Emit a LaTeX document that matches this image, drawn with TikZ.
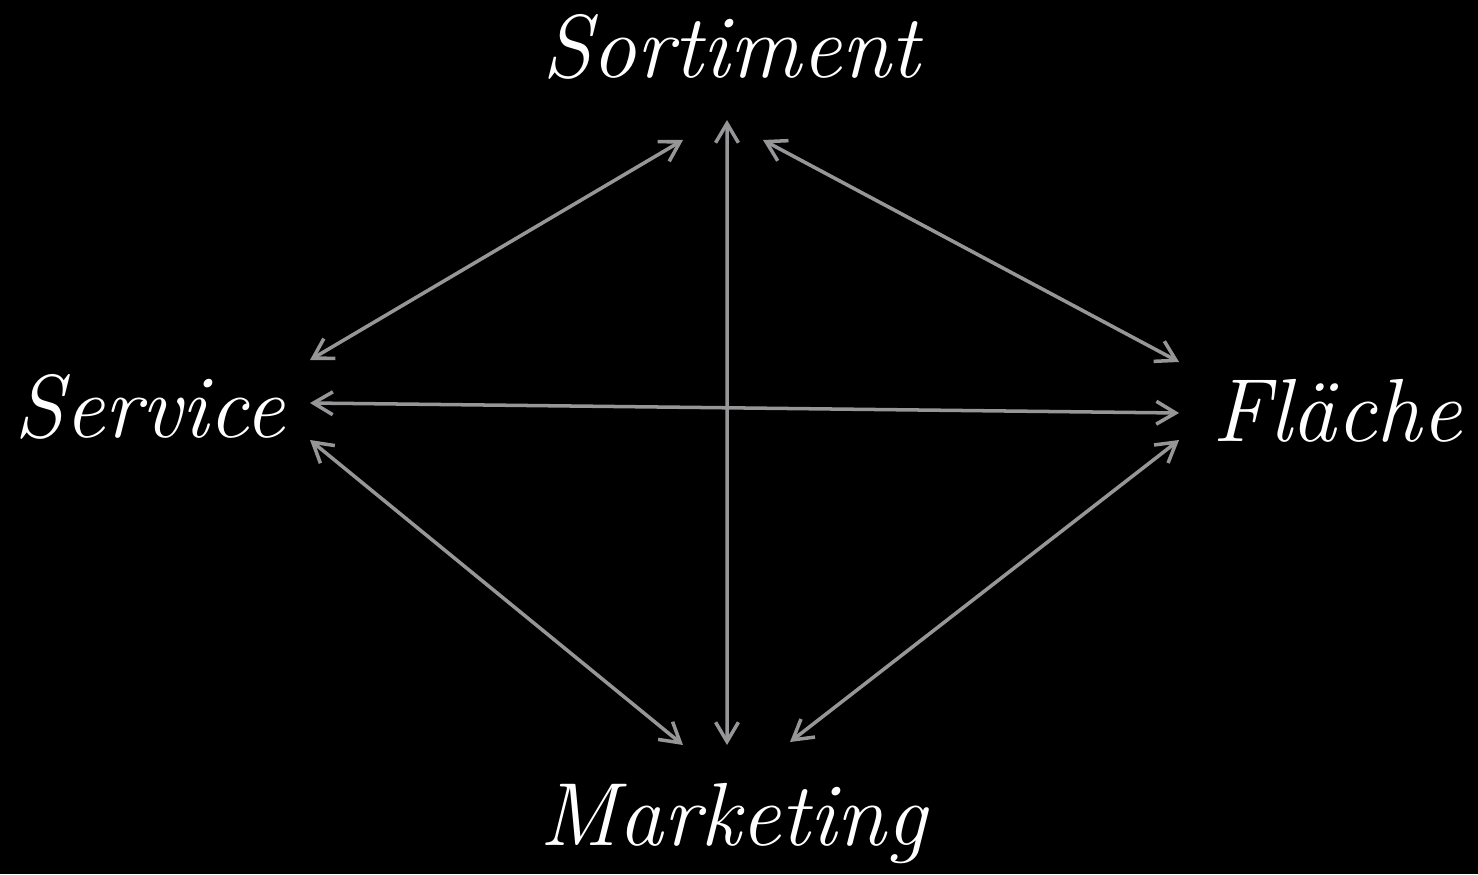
\documentclass[tikz,border=0pt]{standalone}
\usepackage{fontspec}
\usepackage{xcolor}
\usepackage{tikz}
\usetikzlibrary{positioning, arrows.meta}
\definecolor{linkgray}{HTML}{969698}

\begin{document}
\begin{tikzpicture}[
  every node/.style={font=\fontsize{51}{60}\selectfont\itshape\addfontfeatures{FakeBold=0.6},
                     text=white, inner sep=0pt, outer sep=0pt, anchor=base},
  arr/.style={{Straight Barb[length=11pt, width=13pt]}-{Straight Barb[length=11pt, width=13pt]},
              linkgray, line width=2pt}
]
\fill[black] (0,0) rectangle (29.56,17.48);
\useasboundingbox (0,0) rectangle (29.56,17.48);

\node (sort) at (14.62,15.92) {Sortiment};
\node (serv) at (3.00,8.74)   {Service};
\node (flae) at (26.74,8.66)  {Fläche};
\node (mark) at (14.66,0.58)  {Marketing};

\draw[arr] ([shift={(-0.08,-0.84)}]sort.base) -- ([shift={(-0.12,2.00)}]mark.base);
\draw[arr] ([shift={(-0.96,-1.24)}]sort.base) -- ([shift={(0.50,1.54)}]serv.base east);
\draw[arr] ([shift={(0.64,-1.24)}]sort.base)  -- ([shift={(-0.66,1.58)}]flae.base west);
\draw[arr] ([shift={(0.50,0.68)}]serv.base east) -- ([shift={(-0.66,0.56)}]flae.base west);
\draw[arr] ([shift={(0.50,-0.06)}]serv.base east) -- ([shift={(-1.00,2.00)}]mark.base);
\draw[arr] ([shift={(-0.66,0.02)}]flae.base west) -- ([shift={(1.14,2.06)}]mark.base);
\end{tikzpicture}
\end{document}
